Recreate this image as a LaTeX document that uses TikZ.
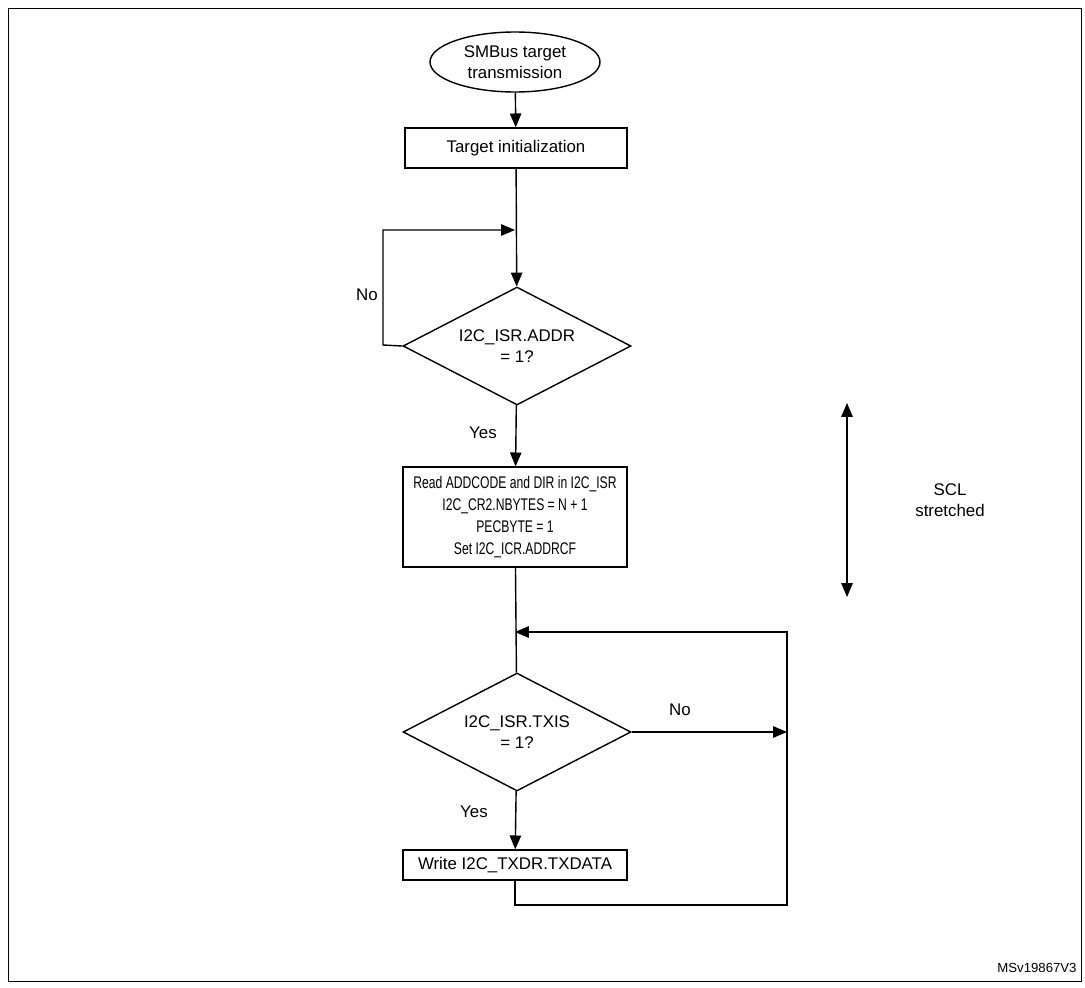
\documentclass[tikz,border=0pt]{standalone}
\usepackage{fontspec}
\setmainfont{Liberation Sans}
\newfontfamily\narrowfont{Liberation Sans}[FakeStretch=0.72]
\usetikzlibrary{shapes.geometric, arrows, positioning}
\tikzstyle{startstop} = [ellipse, minimum width=3.4cm, minimum height=1.2cm, inner sep=0pt, align=center, draw=black, thick]
\tikzstyle{process} = [rectangle, minimum height=0.8cm, align=center, draw=black, thick]
\tikzstyle{decision} = [diamond, minimum width=4.56cm, minimum height=2.36cm, aspect=1.93, inner sep=0pt, align=center, draw=black, thick]
\tikzstyle{arrow} = [thick,->,>=triangle 45]
\tikzstyle{link} = [thick, -]

\begin{document}
\begin{tikzpicture}[x=0.02cm, y=-0.02cm, font=\fontsize{9.6}{12}\selectfont]
    \useasboundingbox (0,0) rectangle (1085,987);
    \draw [thin] (8,8) rectangle (1081,981);
    \node (start) [startstop] at (515,62) {SMBus target\\transmission};
    \node (init) [process, minimum width=4.44cm] at (516,148) {Target initialization};
    \node (addr) [decision] at (517,346) {I2C\_ISR.ADDR\\= 1?};
    \node (read) [process, minimum width=4.48cm, minimum height=2cm, font=\fontsize{9.6}{12.5}\narrowfont] at (515,517) {Read ADDCODE and DIR in I2C\_ISR\\I2C\_CR2.NBYTES = N + 1\\PECBYTE = 1\\Set I2C\_ICR.ADDRCF};
    \node (txis) [decision] at (517,732) {I2C\_ISR.TXIS\\= 1?};
    \node (write) [process, minimum width=4.48cm, minimum height=0.6cm] at (515,865) {Write I2C\_TXDR.TXDATA};
    \coordinate (loopA) at (515,230);
    \coordinate (loopB) at (515,632);
    \coordinate (right) at (787,732);
    \draw [arrow] (start) -- (init);
    \draw [arrow] (init) -- (addr);
    \draw [arrow] (addr.west) -- (383,345) -- (383,230) -- (loopA);
    \draw [arrow] (addr) -- (read);
    \draw [link] (read) -- (txis);
    \draw [arrow] (txis) -- (write);
    \draw [arrow] (txis.east) -- (right);
    \draw [arrow] (write) -- (515,905) -- (787,905) -- (787,632) -- (loopB);
    \node at (367,295) {No};
    \node at (483,433) {Yes};
    \node at (680,710) {No};
    \node at (474,812) {Yes};
    % SCL stretched
    \coordinate (sclT) at (847,403);
    \coordinate (sclB) at (847,597);
    \draw [thick,<->,>=triangle 45] (sclT) -- (sclB);
    \node [align=center] at (950,500) {SCL\\stretched};
    \node [font=\fontsize{7.5}{9}\selectfont] at (1037,968) {MSv19867V3};
\end{tikzpicture}
\end{document}
